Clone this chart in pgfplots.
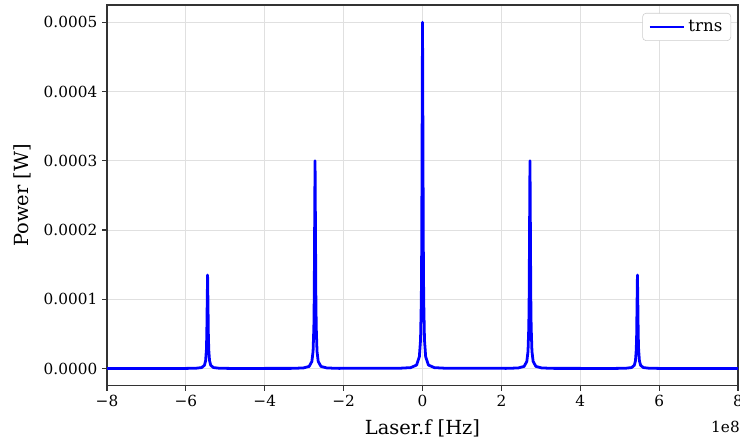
\documentclass[border=0pt]{standalone}
\usepackage{fontspec}
\setmainfont{DejaVu Serif}
\usepackage{pgfplots}
\pgfplotsset{compat=1.18}
\begin{document}
\begin{tikzpicture}
\begin{axis}[
  name=ax,
  scale only axis,
  width=454pt, height=274pt,
  xmin=-8, xmax=8,
  ymin=-0.000025, ymax=0.000525,
  scaled y ticks=false,
  scaled x ticks=false,
  xtick={-8,-6,-4,-2,0,2,4,6,8},
  xticklabels={−8,−6,−4,−2,0,2,4,6,8},
  ytick={0,0.0001,0.0002,0.0003,0.0004,0.0005},
  yticklabels={0.0000,0.0001,0.0002,0.0003,0.0004,0.0005},
  /pgf/number format/assume math mode=true,
  tick align=outside,
  tick pos=left,
  major tick length=3.5pt,
  tick style={black!80, line width=0.8pt},
  axis line style={black!80, line width=0.8pt},
  grid=major,
  major grid style={black!12, line width=0.6pt},
  tick label style={font=\fontsize{11}{13}\selectfont},
  xlabel={Laser.f [Hz]},
  ylabel={Power [W]},
  xlabel style={font=\fontsize{14}{16}\selectfont, yshift=-2pt},
  ylabel style={font=\fontsize{14}{16}\selectfont, yshift=2pt},
  legend style={at={(rel axis cs:0.989,0.979)}, anchor=north east,
    draw=black!20, rounded corners=2.5pt, fill=white,
    font=\fontsize{12}{14}\selectfont, inner xsep=4pt, inner ysep=3pt},
  legend cell align=left,
  legend image code/.code={\draw[#1, line width=2pt] (0pt,0pt) -- (25pt,0pt);},
  clip=true,
]
\addplot[color={rgb,255:red,0;green,0;blue,255}, line width=2pt, line join=round] coordinates {
(-8,0) (-7,0)
(-6.05,0.0000001) (-5.75,0.00000034) (-5.60,0.00000134) (-5.53,0.0000046) (-5.50,0.0000112)
(-5.48,0.000027) (-5.47,0.0000486) (-5.46,0.0000934) (-5.45,0.000135) (-5.44,0.0000934)
(-5.43,0.0000486) (-5.42,0.000027) (-5.40,0.0000112) (-5.37,0.0000046) (-5.30,0.00000134)
(-5.15,0.00000034) (-4.85,0.0000001)
(-3.325,0.00000019) (-3.025,0.00000075) (-2.875,0.00000297) (-2.805,0.0000102) (-2.775,0.0000248)
(-2.755,0.00006) (-2.745,0.000108) (-2.735,0.0002076) (-2.725,0.0003) (-2.715,0.0002076)
(-2.705,0.000108) (-2.695,0.00006) (-2.675,0.0000248) (-2.645,0.0000102) (-2.575,0.00000297)
(-2.425,0.00000075) (-2.125,0.00000019)
(-0.6,0.0000003) (-0.3,0.00000125) (-0.15,0.00000495) (-0.08,0.000017) (-0.05,0.0000413)
(-0.03,0.0001) (-0.02,0.00018) (-0.01,0.000346) (0,0.0005) (0.01,0.000346)
(0.02,0.00018) (0.03,0.0001) (0.05,0.0000413) (0.08,0.000017) (0.15,0.00000495)
(0.3,0.00000125) (0.6,0.0000003)
(2.125,0.00000019) (2.425,0.00000075) (2.575,0.00000297) (2.645,0.0000102) (2.675,0.0000248)
(2.695,0.00006) (2.705,0.000108) (2.715,0.0002076) (2.725,0.0003) (2.735,0.0002076)
(2.745,0.000108) (2.755,0.00006) (2.775,0.0000248) (2.805,0.0000102) (2.875,0.00000297)
(3.025,0.00000075) (3.325,0.00000019)
(4.85,0.0000001) (5.15,0.00000034) (5.30,0.00000134) (5.37,0.0000046) (5.40,0.0000112)
(5.42,0.000027) (5.43,0.0000486) (5.44,0.0000934) (5.45,0.000135) (5.46,0.0000934)
(5.47,0.0000486) (5.48,0.000027) (5.50,0.0000112) (5.53,0.0000046) (5.60,0.00000134)
(5.75,0.00000034) (6.05,0.0000001)
(7,0) (8,0)
};
\addlegendentry{trns}
\coordinate (bl) at (rel axis cs:0,0);
\coordinate (tr) at (rel axis cs:1,1);
\end{axis}
\node[anchor=east, font=\fontsize{11}{13}\selectfont, inner sep=0pt] at ([shift={(1.44pt,-29.5pt)}]tr |- bl) {1e8};
\pgfresetboundingbox
\path ([shift={(-77pt,-41pt)}]bl) rectangle ([shift={(1.44pt,3.6pt)}]tr);
\end{tikzpicture}
\end{document}
